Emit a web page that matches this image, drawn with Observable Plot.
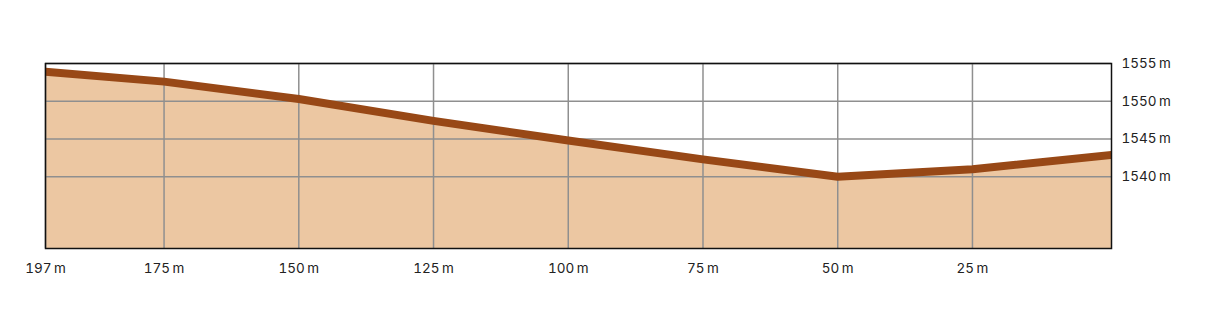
<!DOCTYPE html>
<html><head><meta charset="utf-8">
<script src="https://cdn.jsdelivr.net/npm/d3@7"></script>
<script src="https://cdn.jsdelivr.net/npm/@observablehq/plot@0.6"></script>
<style>body{margin:0;background:#fff;}</style>
</head><body><div id="chart"></div>
<script>
const distances = [197, 175, 150, 125, 100, 75, 50, 25, -0.8];
const elevations = [1553.9, 1552.6, 1550.3, 1547.4, 1544.8, 1542.3, 1540.0, 1541.0, 1542.9];
const xTicks = [197, 175, 150, 125, 100, 75, 50, 25];
const yTicks = [1540, 1545, 1550, 1555];
const yBase = 1530.5;

const data = distances.map((d, i) => ({d, e: elevations[i]}));

const chart = Plot.plot({
  width: 1211, height: 324,
  marginLeft: 45, marginRight: 100, marginTop: 63, marginBottom: 76,
  style: {fontFamily: "Inter, 'Liberation Sans', sans-serif", fontSize: "13.5px", color: "#222", background: "#fff"},
  x: {domain: [197, -0.8], ticks: xTicks, tickFormat: d => d + "\u2009m", tickSize: 0, tickPadding: 15, label: null},
  y: {domain: [yBase, 1555], ticks: yTicks, tickFormat: d => d + "\u2009m", tickSize: 0, tickPadding: 10, label: null, axis: "right"},
  marks: [
    Plot.areaY(data, {x: "d", y1: yBase, y2: "e", fill: "#ecc7a2", curve: "linear"}),
    Plot.gridX(xTicks, {stroke: "#8f8f8f", strokeOpacity: 1, strokeWidth: 1.5}),
    Plot.gridY(yTicks, {stroke: "#8f8f8f", strokeOpacity: 1, strokeWidth: 1.5}),
    Plot.line(data, {x: "d", y: "e", stroke: "#984816", strokeWidth: 8, clip: true, strokeLinejoin: "round"}),
    Plot.frame({stroke: "#111", strokeWidth: 1.5})
  ]
});
document.getElementById("chart").appendChild(chart);
</script></body></html>
